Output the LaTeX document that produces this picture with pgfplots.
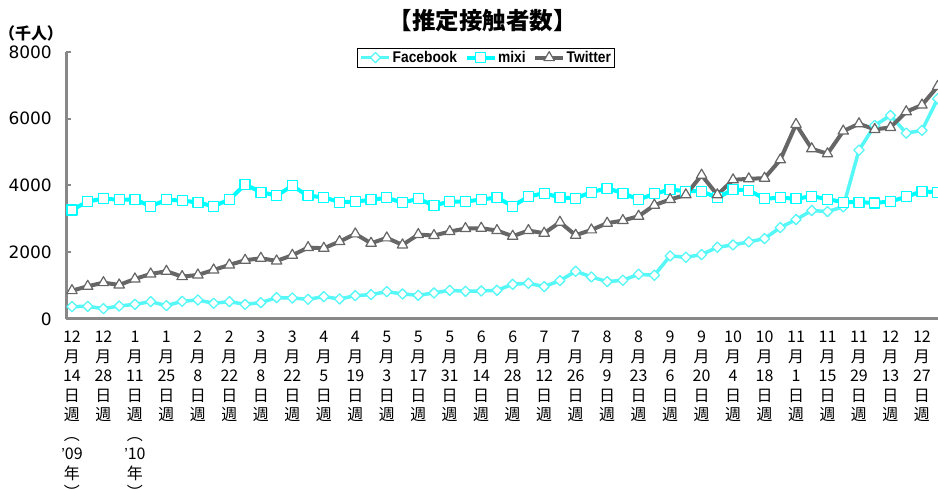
\documentclass[border=0pt]{standalone}
\usepackage{pgfplots}
\pgfplotsset{compat=1.18}
\usepackage{pgfplotstable}
\usepackage{fontspec}
\setmainfont{Liberation Sans}
\newfontfamily\jp{Noto Sans CJK JP}
\newfontfamily\dv{DejaVu Sans}
\newfontfamily\legfont[FakeStretch=0.89]{Liberation Sans}
\definecolor{fbc}{HTML}{55F7F7}
\definecolor{mxc}{HTML}{00FFFF}
\definecolor{twc}{HTML}{666666}
\definecolor{axg}{HTML}{888888}

\pgfplotstableread{
i fb mixi tw
0 370 3270 850
1 380 3520 980
2 310 3610 1090
3 390 3570 1020
4 440 3580 1200
5 520 3380 1350
6 400 3570 1430
7 530 3550 1270
8 570 3490 1320
9 470 3380 1470
10 520 3580 1620
11 440 4030 1760
12 490 3800 1820
13 640 3700 1740
14 630 3990 1910
15 590 3690 2140
16 670 3650 2120
17 600 3500 2320
18 700 3520 2550
19 730 3570 2270
20 820 3630 2430
21 750 3490 2220
22 710 3600 2530
23 780 3400 2500
24 860 3520 2620
25 830 3520 2710
26 840 3580 2720
27 860 3640 2650
28 1040 3380 2480
29 1070 3670 2650
30 970 3770 2570
31 1150 3640 2900
32 1430 3620 2510
33 1260 3800 2670
34 1120 3920 2870
35 1160 3770 2950
36 1340 3580 3080
37 1310 3750 3410
38 1890 3880 3580
39 1850 3830 3720
40 1930 3830 4310
41 2150 3630 3720
42 2220 3880 4170
43 2310 3860 4200
44 2410 3600 4220
45 2740 3640 4770
46 2980 3600 5830
47 3250 3680 5100
48 3220 3590 4950
49 3360 3500 5630
50 5060 3500 5850
51 5800 3480 5680
52 6100 3520 5740
53 5570 3660 6210
54 5650 3830 6410
55 6600 3790 6970
}\data

\begin{document}
\begin{tikzpicture}[x=1pt,y=1pt]
\useasboundingbox (0,0) rectangle (938,489);
\node[font=\jp\bfseries\fontsize{23.5}{23.5}\selectfont] at (482.5,468) {【推定接触者数】};
\node[font=\jp\bfseries\fontsize{16}{16}\selectfont] at (31,456) {（千人）};
\begin{axis}[
  at={(66pt,170pt)}, anchor=south west,
  scale only axis, width=872pt, height=267pt,
  xmin=-0.38, xmax=55.02, ymin=0, ymax=8000,
  clip=false,
  axis x line*=bottom, axis y line*=left,
  axis line style={axg, line width=3pt},
  ytick={0,2000,4000,6000,8000},
  tick align=inside, major tick length=5pt,
  major y tick style={axg, line width=2pt},
  major x tick style={draw=none},
  xtick={0,2,...,54},
  xticklabels={
    {12\\月\\14\\日\\週\\︵\\{\rmfamily ’}09\\年\\︶},
    {12\\月\\28\\日\\週},
    {1\\月\\11\\日\\週\\︵\\{\rmfamily ’}10\\年\\︶},
    {1\\月\\25\\日\\週},
    {2\\月\\8\\日\\週},
    {2\\月\\22\\日\\週},
    {3\\月\\8\\日\\週},
    {3\\月\\22\\日\\週},
    {4\\月\\5\\日\\週},
    {4\\月\\19\\日\\週},
    {5\\月\\3\\日\\週},
    {5\\月\\17\\日\\週},
    {5\\月\\31\\日\\週},
    {6\\月\\14\\日\\週},
    {6\\月\\28\\日\\週},
    {7\\月\\12\\日\\週},
    {7\\月\\26\\日\\週},
    {8\\月\\9\\日\\週},
    {8\\月\\23\\日\\週},
    {9\\月\\6\\日\\週},
    {9\\月\\20\\日\\週},
    {10\\月\\4\\日\\週},
    {10\\月\\18\\日\\週},
    {11\\月\\1\\日\\週},
    {11\\月\\15\\日\\週},
    {11\\月\\29\\日\\週},
    {12\\月\\13\\日\\週},
    {12\\月\\27\\日\\週}},
  xticklabel style={font=\jp\fontsize{16}{19.5}\selectfont, align=center, anchor=north, inner sep=0pt, yshift=-12pt},
  yticklabel style={font=\dv\fontsize{17}{17}\selectfont, anchor=east, inner sep=0pt, xshift=-14pt},
  /pgf/number format/assume math mode=true,
  /pgf/number format/set thousands separator={},
  legend columns=3,
  legend style={at={(0.4817,0.979)}, anchor=center, draw=black, line width=0.8pt,
    font=\legfont\bfseries\fontsize{15.5}{15.5}\selectfont, inner xsep=2pt, inner ysep=3pt,
    nodes={inner xsep=1.5pt, inner ysep=0pt},
    /tikz/every even column/.append style={column sep=6pt}},
  legend image code/.code={\draw[mark repeat=2, mark phase=2] plot coordinates {(0pt,0pt) (14pt,0pt) (28pt,0pt)};},
]
\addplot[fbc, line width=3.5pt, line join=round, mark=square*, mark size=3.6pt,
  mark options={rotate=45, fill=white, draw=fbc, line width=1.3pt}] table[x=i, y=fb] {\data};
\addlegendentry{Facebook}
\addplot[mxc, line width=4pt, line join=round, mark=square*, mark size=5pt,
  mark options={fill=white, draw=mxc, line width=1.3pt}] table[x=i, y=mixi] {\data};
\addlegendentry{mixi}
\addplot[twc, line width=4pt, line join=round, mark=triangle*, mark size=6pt,
  mark options={fill=white, draw=twc, line width=1.2pt}] table[x=i, y=tw] {\data};
\addlegendentry{Twitter}
\end{axis}
\end{tikzpicture}
\end{document}
